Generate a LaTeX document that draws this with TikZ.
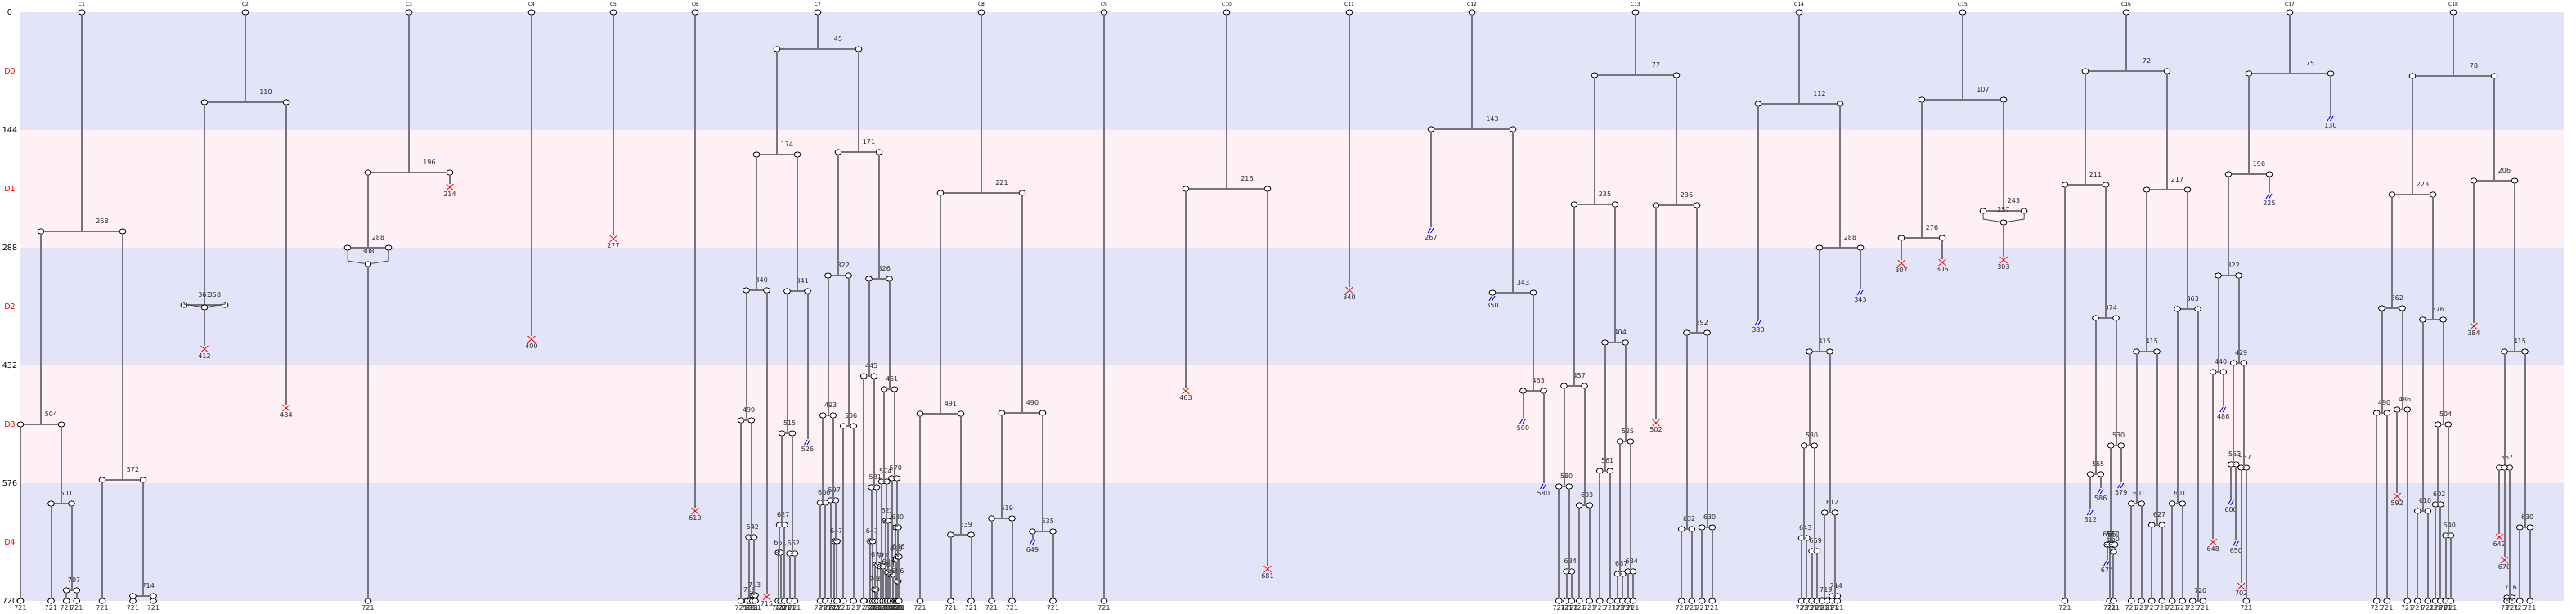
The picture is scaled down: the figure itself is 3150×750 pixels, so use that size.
\documentclass[tikz,border=0pt]{standalone}
\usepackage{fontspec}
\setmainfont{DejaVu Sans}
\usetikzlibrary{calc,shapes.geometric,shapes.misc}
\definecolor{bandblue}{RGB}{228,228,248}
\definecolor{bandpink}{RGB}{255,240,245}
\definecolor{linegray}{RGB}{118,115,125}

\newcommand\rootcell[3]{%
  \node[cell] (#1) at (#2,0) {};
  \node[clabel] (#1t) at (#2,-10) {#3};}
\newcommand\splitcell[3]{%
  \path let \p1=(#1) in
    coordinate (#1m) at (\x1,#2)
    node[cell] (#1l) at (\x1-#3,#2) {}
    node[cell] (#1r) at (\x1+#3,#2) {}
    node[tlabel] (#1n) at (\x1+#3/2,#2-12) {#2};
  \draw[branch] (#1) -- (#1m);
  \draw[branch] (#1l) -- (#1r);}
\newcommand\fusecell[2]{%
  \path let \p1=(#1m) in
    node[cell] (#1f) at (\x1,#2) {}
    node[tlabel] (#1g) at (\x1,#2-15) {#2};
  \draw[fuse] let \p2=(#1l) in (#1l) -- (\x2,#2-4) -- (#1f);
  \draw[fuse] let \p3=(#1r) in (#1r) -- (\x3,#2-4) -- (#1f);}
\newcommand\tiplabel[1]{%
  \path let \p1=(#1) in node[tlabel] (#1k) at (\x1,729) {721};}
\newcommand\leafcell[1]{%
  \path let \p1=(#1) in node[cell] (#1e) at (\x1,720) {};
  \draw[branch] (#1) -- (#1e);
  \tiplabel{#1e}}
\newcommand\leafpair[1]{\leafcell{#1l}\leafcell{#1r}}
\newcommand\diecell[2]{%
  \path let \p1=(#1) in
    node[deadmark] (#1e) at (\x1,#2) {}
    node[tlabel] (#1k) at (\x1,#2+9) {#2};
  \draw[branch] (#1) -- (#1e);}
\newcommand\lostcell[2]{%
  \path let \p1=(#1) in
    node[lostmark] (#1e) at (\x1,#2) {}
    node[tlabel] (#1k) at (\x1,#2+9) {#2};
  \draw[branch] (#1) -- (#1e);}

\begin{document}
\begin{tikzpicture}[x=1pt, y=-1pt,
  cell/.style={ellipse, draw=black, fill=white, line width=0.8pt, minimum width=8pt, minimum height=6.5pt, inner sep=0pt},
  branch/.style={draw=linegray, line width=2pt},
  fuse/.style={draw=linegray!70!black, line width=1pt},
  deadmark/.style={cross out, draw=red, line width=0.8pt, minimum width=8pt, minimum height=7pt, inner sep=0pt},
  lostmark/.style={minimum width=9pt, minimum height=7pt, inner sep=0pt,
    path picture={\draw[blue, line width=0.9pt]
      ([shift={(-4pt,-3pt)}]path picture bounding box.center) -- ++(3.5pt,6pt)
      ([shift={(-0.5pt,-3pt)}]path picture bounding box.center) -- ++(3.5pt,6pt);}},
  tlabel/.style={font=\fontsize{8}{8}\selectfont, text=black!85, inner sep=0pt},
  clabel/.style={font=\fontsize{6}{6}\selectfont, inner sep=0pt},
  axlabel/.style={font=\fontsize{9.5}{9.5}\selectfont, inner sep=0pt},
  dlabel/.style={axlabel, text=red}]
\useasboundingbox (0,-15) rectangle (3150,735);
\foreach \k/\c in {0/bandblue,1/bandpink,2/bandblue,3/bandpink,4/bandblue}
  \fill[\c] (25,\k*144) rectangle (3135,\k*144+144);
\foreach \t in {0,144,288,432,576,720}
  \node[axlabel] (ax\t) at (12,\t) {\t};
\foreach \k in {0,...,4}
  \node[dlabel] (d\k) at (12,\k*144+72) {D\k};

\rootcell{c1}{100}{C1}
\splitcell{c1}{268}{50}
\splitcell{c1l}{504}{25}
\leafcell{c1ll}
\splitcell{c1lr}{601}{12.5}
\leafcell{c1lrl}
\splitcell{c1lrr}{707}{6.25}
\leafpair{c1lrr}
\splitcell{c1r}{572}{25}
\leafcell{c1rl}
\splitcell{c1rr}{714}{12.5}
\leafpair{c1rr}

\rootcell{c2}{300}{C2}
\splitcell{c2}{110}{50}
\splitcell{c2l}{358}{25}
\fusecell{c2l}{361}
\diecell{c2lf}{412}
\diecell{c2r}{484}

\rootcell{c3}{500}{C3}
\splitcell{c3}{196}{50}
\splitcell{c3l}{288}{25}
\fusecell{c3l}{308}
\leafcell{c3lf}
\diecell{c3r}{214}

\rootcell{c4}{650}{C4}
\diecell{c4}{400}
\rootcell{c5}{750}{C5}
\diecell{c5}{277}
\rootcell{c6}{850}{C6}
\diecell{c6}{610}

\rootcell{c7}{1000}{C7}
\splitcell{c7}{45}{50}
\splitcell{c7l}{174}{25}
\splitcell{c7ll}{340}{12.5}
\splitcell{c7lll}{499}{6.25}
\leafcell{c7llll}
\splitcell{c7lllr}{642}{3.125}
\splitcell{c7lllrl}{719}{1.5625}
\leafpair{c7lllrl}
\splitcell{c7lllrr}{713}{1.5625}
\leafpair{c7lllrr}
\diecell{c7llr}{715}
\splitcell{c7lr}{341}{12.5}
\splitcell{c7lrl}{515}{6.25}
\splitcell{c7lrll}{627}{3.125}
\splitcell{c7lrlll}{661}{1.5625}
\leafpair{c7lrlll}
\leafcell{c7lrllr}
\splitcell{c7lrlr}{662}{3.125}
\leafpair{c7lrlr}
\lostcell{c7lrr}{526}
\splitcell{c7r}{171}{25}
\splitcell{c7rl}{322}{12.5}
\splitcell{c7rll}{493}{6.25}
\splitcell{c7rlll}{600}{3.125}
\leafpair{c7rlll}
\splitcell{c7rllr}{597}{3.125}
\leafcell{c7rllrl}
\splitcell{c7rllrr}{647}{1.5625}
\leafpair{c7rllrr}
\splitcell{c7rlr}{506}{6.25}
\leafpair{c7rlr}
\splitcell{c7rr}{326}{12.5}
\splitcell{c7rrl}{445}{6.25}
\leafcell{c7rrll}
\splitcell{c7rrlr}{581}{3.125}
\splitcell{c7rrlrl}{647}{1.5625}
\leafpair{c7rrlrl}
\splitcell{c7rrlrr}{676}{1.5625}
\splitcell{c7rrlrrl}{706}{0.78125}
\leafpair{c7rrlrrl}
\leafcell{c7rrlrrr}
\splitcell{c7rrr}{461}{6.25}
\splitcell{c7rrrl}{574}{3.125}
\splitcell{c7rrrll}{678}{1.5625}
\leafpair{c7rrrll}
\splitcell{c7rrrlr}{622}{1.5625}
\leafcell{c7rrrlrl}
\splitcell{c7rrrlrr}{685}{0.78125}
\leafpair{c7rrrlrr}
\splitcell{c7rrrr}{570}{3.125}
\splitcell{c7rrrrl}{688}{1.5625}
\leafpair{c7rrrrl}
\splitcell{c7rrrrr}{630}{1.5625}
\splitcell{c7rrrrrl}{669}{0.78125}
\leafpair{c7rrrrrl}
\splitcell{c7rrrrrr}{666}{0.78125}
\splitcell{c7rrrrrrl}{696}{0.390625}
\leafpair{c7rrrrrrl}
\leafcell{c7rrrrrrr}

\rootcell{c8}{1200}{C8}
\splitcell{c8}{221}{50}
\splitcell{c8l}{491}{25}
\leafcell{c8ll}
\splitcell{c8lr}{639}{12.5}
\leafpair{c8lr}
\splitcell{c8r}{490}{25}
\splitcell{c8rl}{619}{12.5}
\leafpair{c8rl}
\splitcell{c8rr}{635}{12.5}
\lostcell{c8rrl}{649}
\leafcell{c8rrr}

\rootcell{c9}{1350}{C9}
\leafcell{c9}

\rootcell{c10}{1500}{C10}
\splitcell{c10}{216}{50}
\diecell{c10l}{463}
\diecell{c10r}{681}

\rootcell{c11}{1650}{C11}
\diecell{c11}{340}

\rootcell{c12}{1800}{C12}
\splitcell{c12}{143}{50}
\lostcell{c12l}{267}
\splitcell{c12r}{343}{25}
\lostcell{c12rl}{350}
\splitcell{c12rr}{463}{12.5}
\lostcell{c12rrl}{500}
\lostcell{c12rrr}{580}

\rootcell{c13}{2000}{C13}
\splitcell{c13}{77}{50}
\splitcell{c13l}{235}{25}
\splitcell{c13ll}{457}{12.5}
\splitcell{c13lll}{580}{6.25}
\leafcell{c13llll}
\splitcell{c13lllr}{684}{3.125}
\leafpair{c13lllr}
\splitcell{c13llr}{603}{6.25}
\leafpair{c13llr}
\splitcell{c13lr}{404}{12.5}
\splitcell{c13lrl}{561}{6.25}
\leafpair{c13lrl}
\splitcell{c13lrr}{525}{6.25}
\splitcell{c13lrrl}{687}{3.125}
\leafpair{c13lrrl}
\splitcell{c13lrrr}{684}{3.125}
\leafpair{c13lrrr}
\splitcell{c13r}{236}{25}
\diecell{c13rl}{502}
\splitcell{c13rr}{392}{12.5}
\splitcell{c13rrl}{632}{6.25}
\leafpair{c13rrl}
\splitcell{c13rrr}{630}{6.25}
\leafpair{c13rrr}

\rootcell{c14}{2200}{C14}
\splitcell{c14}{112}{50}
\lostcell{c14l}{380}
\splitcell{c14r}{288}{25}
\splitcell{c14rl}{415}{12.5}
\splitcell{c14rll}{530}{6.25}
\splitcell{c14rlll}{643}{3.125}
\leafpair{c14rlll}
\splitcell{c14rllr}{659}{3.125}
\leafpair{c14rllr}
\splitcell{c14rlr}{612}{6.25}
\splitcell{c14rlrl}{719}{3.125}
\leafpair{c14rlrl}
\splitcell{c14rlrr}{714}{3.125}
\leafpair{c14rlrr}
\lostcell{c14rr}{343}

\rootcell{c15}{2400}{C15}
\splitcell{c15}{107}{50}
\splitcell{c15l}{276}{25}
\diecell{c15ll}{307}
\diecell{c15lr}{306}
\splitcell{c15r}{243}{25}
\fusecell{c15r}{257}
\diecell{c15rf}{303}

\rootcell{c16}{2600}{C16}
\splitcell{c16}{72}{50}
\splitcell{c16l}{211}{25}
\leafcell{c16ll}
\splitcell{c16lr}{374}{12.5}
\splitcell{c16lrl}{565}{6.25}
\lostcell{c16lrll}{612}
\lostcell{c16lrlr}{586}
\splitcell{c16lrr}{530}{6.25}
\splitcell{c16lrrl}{651}{3.125}
\splitcell{c16lrrll}{651}{1.5625}
\lostcell{c16lrrlll}{674}
\leafcell{c16lrrllr}
\splitcell{c16lrrlr}{651}{1.5625}
\fusecell{c16lrrlr}{660}
\leafcell{c16lrrlrf}
\lostcell{c16lrrr}{579}
\splitcell{c16r}{217}{25}
\splitcell{c16rl}{415}{12.5}
\splitcell{c16rll}{601}{6.25}
\leafpair{c16rll}
\splitcell{c16rlr}{627}{6.25}
\leafpair{c16rlr}
\splitcell{c16rr}{363}{12.5}
\splitcell{c16rrl}{601}{6.25}
\leafpair{c16rrl}
\splitcell{c16rrr}{720}{6.25}
\tiplabel{c16rrrl}
\tiplabel{c16rrrr}

\rootcell{c17}{2800}{C17}
\splitcell{c17}{75}{50}
\splitcell{c17l}{198}{25}
\splitcell{c17ll}{322}{12.5}
\splitcell{c17lll}{440}{6.25}
\diecell{c17llll}{648}
\lostcell{c17lllr}{486}
\splitcell{c17llr}{429}{6.25}
\splitcell{c17llrl}{553}{3.125}
\lostcell{c17llrll}{600}
\lostcell{c17llrlr}{650}
\splitcell{c17llrr}{557}{3.125}
\diecell{c17llrrl}{702}
\leafcell{c17llrrr}
\lostcell{c17lr}{225}
\lostcell{c17r}{130}

\rootcell{c18}{3000}{C18}
\splitcell{c18}{78}{50}
\splitcell{c18l}{223}{25}
\splitcell{c18ll}{362}{12.5}
\splitcell{c18lll}{490}{6.25}
\leafpair{c18lll}
\splitcell{c18llr}{486}{6.25}
\diecell{c18llrl}{592}
\leafcell{c18llrr}
\splitcell{c18lr}{376}{12.5}
\splitcell{c18lrl}{610}{6.25}
\leafpair{c18lrl}
\splitcell{c18lrr}{504}{6.25}
\splitcell{c18lrrl}{602}{3.125}
\leafpair{c18lrrl}
\splitcell{c18lrrr}{640}{3.125}
\leafpair{c18lrrr}
\splitcell{c18r}{206}{25}
\diecell{c18rl}{384}
\splitcell{c18rr}{415}{12.5}
\splitcell{c18rrl}{557}{6.25}
\node[cell] (c18rrlc) at (c18rrlm) {};
\diecell{c18rrll}{642}
\diecell{c18rrlc}{670}
\splitcell{c18rrlr}{716}{3.125}
\leafpair{c18rrlr}
\splitcell{c18rrr}{630}{6.25}
\leafpair{c18rrr}
\end{tikzpicture}
\end{document}
